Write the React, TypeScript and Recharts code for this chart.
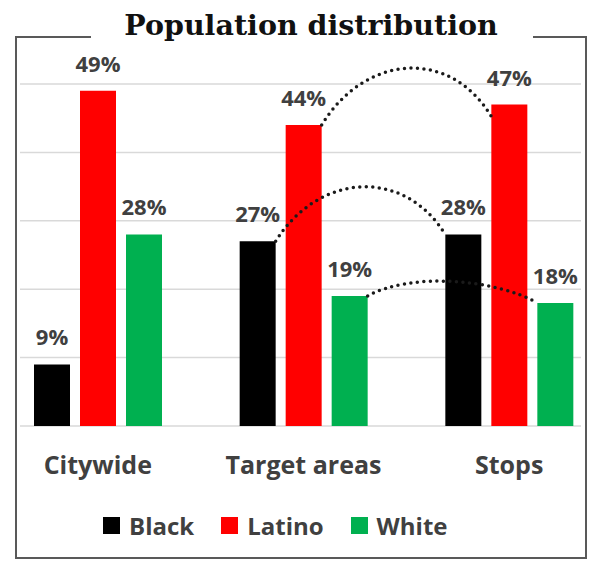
import { Bar, BarChart, CartesianGrid, LabelList, Legend, Rectangle, XAxis, YAxis } from 'recharts'

const categories = ['Citywide', 'Target areas', 'Stops']
const black = [9, 27, 28]
const latino = [49, 44, 47]
const white = [28, 19, 18]
const yTicks = [0, 10, 20, 30, 40, 50]

const series = [
  { key: 'black', name: 'Black', color: '#000000', values: black, arc: 68, endDrop: 0 },
  { key: 'latino', name: 'Latino', color: '#ff0000', values: latino, arc: 70, endDrop: 12 },
  { key: 'white', name: 'White', color: '#00b050', values: white, arc: 24, endDrop: 0 },
]

const data = categories.map((name, i) => {
  const row: Record<string, string | number> = { name }
  series.forEach((s) => (row[s.key] = s.values[i]))
  return row
})

const W = 591
const H = 562
const margin = { top: 84, right: 10, bottom: 76, left: 20 }
const padding = { left: -25, right: -31 }
const barSize = 36
const barGap = 10
const band = (W - margin.left - margin.right - padding.left - padding.right) / categories.length
const text = '#404040'
const sans = '"Open Sans", Lato, sans-serif'

// dotted connectors from "Target areas" bars to "Stops" bars, drawn on top of the last series
function Connectors({ x, y, width, height, value }: any) {
  const ppu = height / value
  const base = y + height
  return (
    <g>
      {series.map((s, k) => {
        const ex = x - (series.length - 1 - k) * (barSize + barGap)
        const sx = ex - band + width
        const sy = base - s.values[1] * ppu
        const ey = base - s.values[2] * ppu + s.endDrop
        const dx = ex - sx
        const d = `M${sx},${sy} C${sx + dx * 0.25},${sy - s.arc} ${ex - dx * 0.25},${ey - s.arc} ${ex},${ey}`
        return (
          <path
            key={s.key}
            d={d}
            fill="none"
            stroke="#1a1a1a"
            strokeWidth={3.5}
            strokeLinecap="round"
            strokeDasharray="0 6.5"
          />
        )
      })}
    </g>
  )
}

function LastSeriesBar(props: any) {
  return (
    <g>
      <Rectangle {...props} />
      {props.index === categories.length - 1 && <Connectors {...props} />}
    </g>
  )
}

function CategoryTick({ x, y, payload }: any) {
  return (
    <text x={x} y={y + 48} textAnchor="middle" fill={text} fontFamily={sans} fontWeight={700} fontSize={25}>
      {payload.value}
    </text>
  )
}

function ValueLabel({ x, y, width, value }: any) {
  return (
    <text x={x + width / 2} y={y - 19} textAnchor="middle" fill={text} fontFamily={sans} fontWeight={700} fontSize={22}>
      {`${value}%`}
    </text>
  )
}

function LegendContent({ payload }: any) {
  return (
    <div style={{ display: 'flex', alignItems: 'center', fontFamily: sans, fontWeight: 700, fontSize: 24, color: text }}>
      {(payload || []).map((p: any) => (
        <div key={p.value} style={{ display: 'flex', alignItems: 'center', marginRight: 27 }}>
          <span style={{ width: 17, height: 17, background: p.color, marginRight: 9, display: 'inline-block' }} />
          <span>{p.value}</span>
        </div>
      ))}
    </div>
  )
}

export default function App() {
  return (
    <div style={{ position: 'absolute', left: 0, top: 0, width: W, height: H, background: '#fff' }}>
      <svg width={W} height={H} style={{ position: 'absolute', left: 0, top: 0 }}>
        <path d="M91,37 H16 V558 H586 V37 H533" fill="none" stroke="#595959" strokeWidth={2} />
        <text x={311} y={35} textAnchor="middle" fontFamily='"DejaVu Serif", serif' fontWeight={700} fontSize={28.5} fill="#111">
          Population distribution
        </text>
      </svg>
      <div style={{ position: 'absolute', left: 0, top: 0 }}>
        <BarChart width={W} height={H} data={data} margin={margin} barSize={barSize} barGap={barGap}>
          <CartesianGrid vertical={false} stroke="#d9d9d9" strokeWidth={1.5} />
          <XAxis
            dataKey="name"
            padding={padding}
            axisLine={false}
            tickLine={false}
            tickSize={0}
            tickMargin={0}
            height={60}
            interval={0}
            tick={<CategoryTick />}
          />
          <YAxis hide domain={[0, 50]} ticks={yTicks} width={0} />
          <Legend
            layout="horizontal"
            verticalAlign="middle"
            align="center"
            wrapperStyle={{ left: 103, top: 509, width: 440 }}
            content={<LegendContent />}
          />
          {series.map((s, k) => (
            <Bar
              key={s.key}
              dataKey={s.key}
              name={s.name}
              fill={s.color}
              legendType="square"
              isAnimationActive={false}
              shape={k === series.length - 1 ? <LastSeriesBar /> : undefined}
            >
              <LabelList dataKey={s.key} content={<ValueLabel />} />
            </Bar>
          ))}
        </BarChart>
      </div>
    </div>
  )
}
